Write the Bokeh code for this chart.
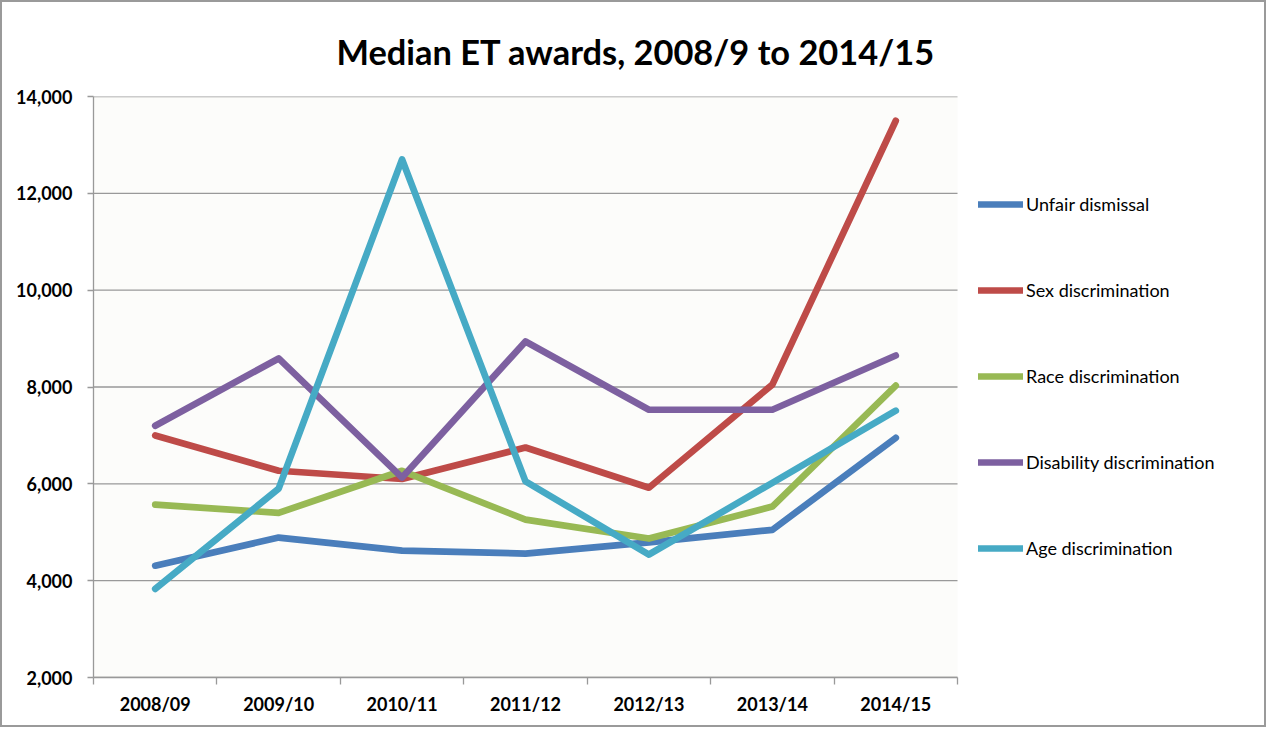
from bokeh.plotting import figure
from bokeh.models import Legend, LegendItem, FixedTicker, Range1d, NumeralTickFormatter, BoxAnnotation
from bokeh.embed import file_html
from bokeh.resources import INLINE

years = ["2008/09", "2009/10", "2010/11", "2011/12", "2012/13", "2013/14", "2014/15"]
unfair_dismissal = [4310, 4890, 4620, 4560, 4790, 5050, 6950]
sex_discrimination = [7000, 6270, 6100, 6750, 5920, 8050, 13500]
race_discrimination = [5570, 5400, 6270, 5260, 4870, 5530, 8030]
disability_discrimination = [7200, 8590, 6130, 8940, 7530, 7530, 8650]
age_discrimination = [3830, 5900, 12700, 6050, 4540, 6020, 7510]
y_ticks = [2000, 4000, 6000, 8000, 10000, 12000, 14000]

series = [
    ("Unfair dismissal", unfair_dismissal, "#4a7ebb"),
    ("Sex discrimination", sex_discrimination, "#be4b48"),
    ("Race discrimination", race_discrimination, "#98b954"),
    ("Disability discrimination", disability_discrimination, "#7d60a0"),
    ("Age discrimination", age_discrimination, "#46aac5"),
]

FONT = "Lato"
GRAY = "#999999"

W, H = 1266, 727
BL, BR, BT, BB = 91, 5, 94, 52
PLOT_W = 864                       # width of the plotted area in px
FRAME_W = W - BL - BR
n = len(years)
x_end = n * FRAME_W / PLOT_W

p = figure(width=W, height=H, output_backend="svg", toolbar_location=None,
           x_range=Range1d(0, x_end), y_range=Range1d(2000, 14000),
           min_border_left=BL, min_border_right=BR, min_border_top=BT, min_border_bottom=BB,
           background_fill_color="white", border_fill_color="white")
p.outline_line_color = None
p.styles = {"border": "2px solid #9a9a9a"}

p.title.text = "Median ET awards, 2008/9 to 2014/15"
p.title.text_font = FONT
p.title.text_font_size = "34.4px"
p.title.text_font_style = "bold"
p.title.text_color = "black"
p.title.align = "left"
p.title.offset = 243
p.title.standoff = 50

# plot-area background and horizontal gridlines limited to the category span
p.add_layout(BoxAnnotation(left=0, right=n, fill_color="#fcfcfa", fill_alpha=1,
                           line_color=None, level="underlay"))
p.segment(x0=[0] * len(y_ticks), x1=[n] * len(y_ticks), y0=y_ticks, y1=y_ticks,
          line_color=GRAY, line_width=1.3)

xs = [i + 0.5 for i in range(n)]
items = []
for name, vals, col in series:
    r = p.line(xs, vals, line_color=col, line_width=6.7, line_cap="round", line_join="round")
    items.append(LegendItem(label=name, renderers=[r]))

# x axis
p.xaxis.bounds = (0, n)
p.xaxis.ticker = FixedTicker(ticks=xs, minor_ticks=list(range(n + 1)))
p.xaxis.major_label_overrides = {x: y for x, y in zip(xs, years)}
p.xaxis.major_tick_line_color = None
p.xaxis.major_tick_out = 0
p.xaxis.major_tick_in = 0
p.xaxis.minor_tick_out = 7
p.xaxis.minor_tick_in = 0
p.xaxis.minor_tick_line_color = GRAY
p.xaxis.minor_tick_line_width = 1.3
p.xaxis.axis_line_color = GRAY
p.xaxis.axis_line_width = 1.3
p.xaxis.major_label_text_font = FONT
p.xaxis.major_label_text_font_size = "18px"
p.xaxis.major_label_text_font_style = "bold"
p.xaxis.major_label_text_color = "black"
p.xaxis.major_label_standoff = 8

# y axis
p.yaxis.ticker = FixedTicker(ticks=y_ticks, minor_ticks=[])
p.yaxis.formatter = NumeralTickFormatter(format="0,0")
p.yaxis.major_tick_out = 6
p.yaxis.major_tick_in = 0
p.yaxis.major_tick_line_color = GRAY
p.yaxis.major_tick_line_width = 1.3
p.yaxis.axis_line_color = GRAY
p.yaxis.axis_line_width = 1.3
p.yaxis.major_label_text_font = FONT
p.yaxis.major_label_text_font_size = "18px"
p.yaxis.major_label_text_font_style = "bold"
p.yaxis.major_label_text_color = "black"
p.yaxis.major_label_standoff = 15

p.xgrid.grid_line_color = None
p.ygrid.grid_line_color = None

legend = Legend(items=items, location=(885, 118), orientation="vertical",
                glyph_width=45, glyph_height=20, label_height=20, label_standoff=3,
                spacing=64, padding=10, margin=0,
                label_text_font=FONT, label_text_font_size="18px", label_text_color="black",
                border_line_color=None, background_fill_alpha=0)
p.add_layout(legend, "center")

open("out.html", "w").write(file_html(p, INLINE))
